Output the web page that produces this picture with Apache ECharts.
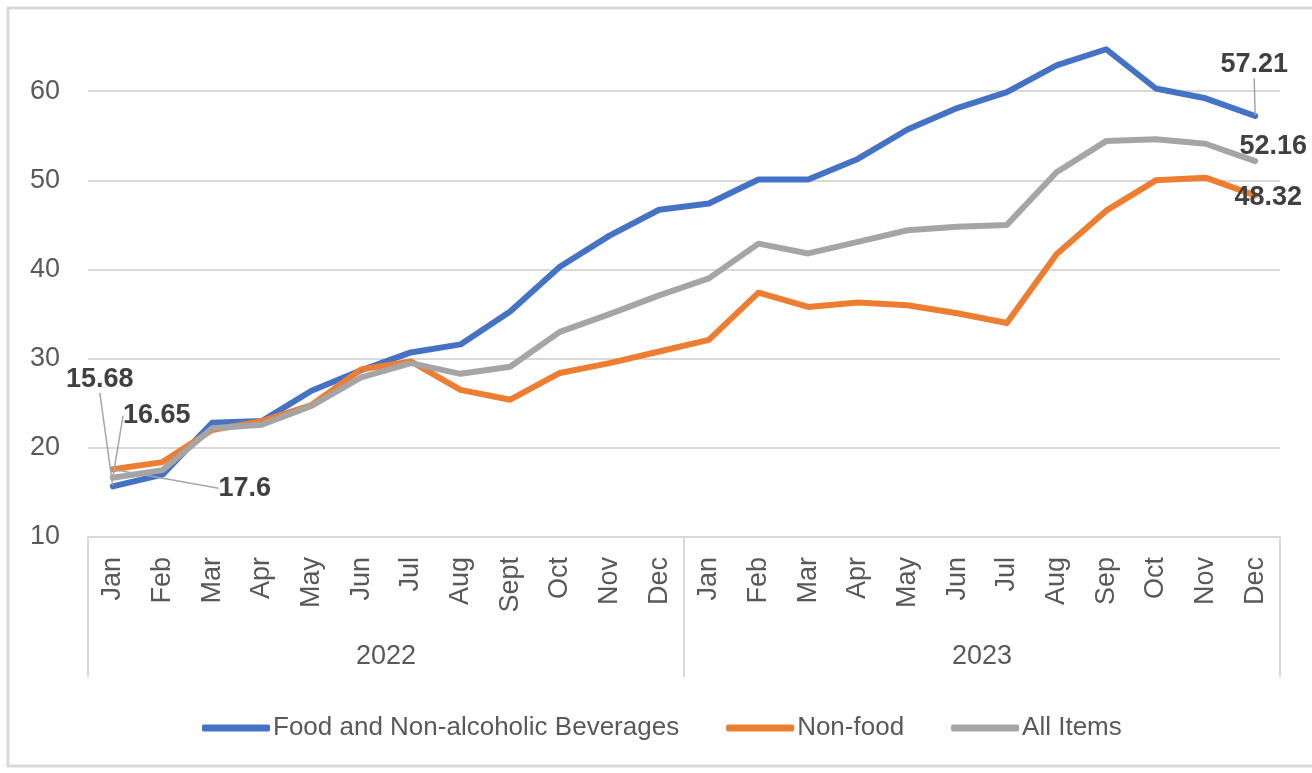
<!DOCTYPE html>
<html><head><meta charset="utf-8">
<script src="https://cdn.jsdelivr.net/npm/echarts@6/dist/echarts.min.js"></script>
<style>html,body{margin:0;padding:0;background:#fff}#c{width:1312px;height:773px}</style>
</head><body><div id="c"></div>
<script>
const months = ['Jan','Feb','Mar','Apr','May','Jun','Jul','Aug','Sept','Oct','Nov','Dec','Jan','Feb','Mar','Apr','May','Jun','Jul','Aug','Sep','Oct','Nov','Dec'];
const years = ['2022','2023'];
const seriesNames = ['Food and Non-alcoholic Beverages','Non-food','All Items'];
const food = [15.68,17.0,22.8,23.0,26.4,28.7,30.7,31.6,35.3,40.3,43.8,46.7,47.4,50.1,50.1,52.4,55.7,58.1,59.9,62.9,64.7,60.3,59.2,57.21];
const nonFood = [17.6,18.4,22.0,23.0,24.8,28.8,29.7,26.5,25.4,28.4,29.5,30.8,32.1,37.4,35.8,36.3,36.0,35.1,34.0,41.7,46.6,50.0,50.3,48.32];
const allItems = [16.65,17.5,22.2,22.6,24.7,27.9,29.5,28.3,29.1,33.0,35.0,37.1,39.0,42.9,41.8,43.1,44.4,44.8,45.0,50.9,54.4,54.6,54.1,52.16];
const yMin = 10, yMax = 70, yStep = 10;

const SANS = "'Liberation Sans', Arial, sans-serif";

function mk(name, values, color, offs, guides) {
  const last = values.length - 1;
  return {
    name: name, type: 'line',
    data: values.map((v, i) => ({
      value: v,
      label: { show: i === 0 || i === last },
      labelLine: { show: i === 0 ? guides[0] : guides[1] }
    })),
    symbol: 'circle', symbolSize: 2, showSymbol: true,
    itemStyle: { color: color },
    lineStyle: { color: color, width: 6, cap: 'round', join: 'round' },
    label: { position: 'inside', fontFamily: SANS, fontWeight: 'bold', fontSize: 27, color: '#404040' },
    labelLine: { show: true, lineStyle: { color: '#A6A6A6', width: 1.5 } },
    labelLayout: function (p) { const o = p.dataIndex === 0 ? offs[0] : offs[1]; return { dx: o[0], dy: o[1] }; },
    emphasis: { disabled: true }, animation: false
  };
}

const chart = echarts.init(document.getElementById('c'), null, { renderer: 'canvas' });
chart.setOption({
  backgroundColor: '#fff',
  animation: false,
  graphic: [{ type: 'rect', silent: true, z: -10, shape: { x: 8, y: 8, width: 1312, height: 758 }, style: { fill: 'none', stroke: '#D9D9D9', lineWidth: 3 } }],
  grid: { left: 88, right: 32, top: 2, bottom: 236, containLabel: false },
  legend: {
    data: seriesNames, left: 197, top: 710, itemWidth: 68, itemHeight: 7, itemGap: 47, icon: 'roundRect',
    textStyle: { fontFamily: SANS, fontSize: 26, color: '#595959', padding: [0, 0, 0, -2] }
  },
  xAxis: [{
    type: 'category', data: months, boundaryGap: true,
    axisLine: { lineStyle: { color: '#D9D9D9', width: 2 } },
    axisTick: { show: false },
    axisLabel: { rotate: 90, margin: 20, interval: 0, fontFamily: SANS, fontSize: 27, color: '#595959' },
    splitLine: { show: false }
  }, {
    type: 'category', data: years, boundaryGap: true, position: 'bottom',
    axisLine: { show: false },
    axisTick: { show: true, length: 140, lineStyle: { color: '#D9D9D9', width: 2 } },
    axisLabel: { margin: 106, fontFamily: SANS, fontSize: 27, color: '#595959' },
    splitLine: { show: false }
  }],
  yAxis: {
    type: 'value', min: yMin, max: yMax, interval: yStep,
    axisLine: { show: false }, axisTick: { show: false },
    axisLabel: { margin: 28, fontFamily: SANS, fontSize: 27, color: '#595959', showMaxLabel: false },
    splitLine: { lineStyle: { color: '#D9D9D9', width: 2 }, showMaxLine: false }
  },
  series: [
    mk(seriesNames[0], food, '#4472C4', [[-13, -107], [-1, -51]], [true, true]),
    mk(seriesNames[1], nonFood, '#ED7D31', [[132, 19], [13, 2]], [true, false]),
    mk(seriesNames[2], allItems, '#A5A5A5', [[44, -62], [18, -15]], [true, false])
  ]
});
</script></body></html>
